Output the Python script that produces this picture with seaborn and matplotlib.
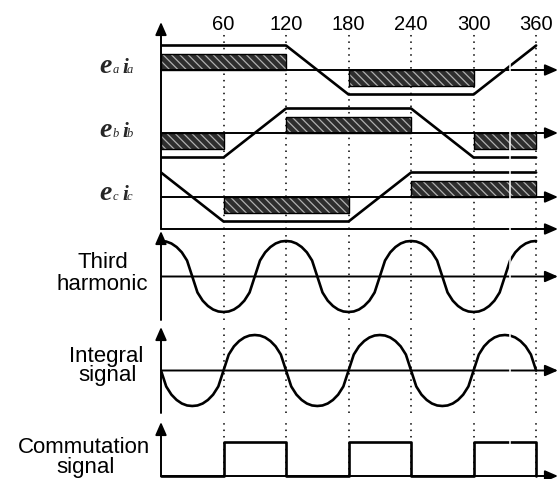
import matplotlib
matplotlib.use("Agg")
import matplotlib.pyplot as plt
import matplotlib.lines as mlines
import seaborn as sns

# ---------------------------------------------------------------- data
tick_angles = [60, 120, 180, 240, 300, 360]
tick_labels = ["60", "120", "180", "240", "300", "360"]

# trapezoidal back-EMF corner points (electrical degrees, per-unit)
ea_angles = [0, 120, 180, 300, 360]
ea_values = [1, 1, -1, -1, 1]
eb_angles = [0, 60, 120, 240, 300, 360]
eb_values = [-1, -1, 1, 1, -1, -1]
ec_angles = [0, 60, 180, 240, 360]
ec_values = [1, -1, -1, 1, 1]

# phase current blocks: start angle, end angle, sign
ia_start, ia_end, ia_sign = [0, 180], [120, 300], [1, -1]
ib_start, ib_end, ib_sign = [0, 120, 300], [60, 240, 360], [-1, 1, -1]
ic_start, ic_end, ic_sign = [60, 240], [180, 360], [-1, 1]
current_level = 0.65

# sampled waveforms every 5 degrees, 0..360
sample_angles = list(range(0, 365, 5))
third_harmonic = [
    1, .985, .93, .83, .68, .45, 0, -.45, -.68, -.83, -.93, -.985,
    -1, -.985, -.93, -.83, -.68, -.45, 0, .45, .68, .83, .93, .985,
    1, .985, .93, .83, .68, .45, 0, -.45, -.68, -.83, -.93, -.985,
    -1, -.985, -.93, -.83, -.68, -.45, 0, .45, .68, .83, .93, .985,
    1, .985, .93, .83, .68, .45, 0, -.45, -.68, -.83, -.93, -.985,
    -1, -.985, -.93, -.83, -.68, -.45, 0, .45, .68, .83, .93, .985,
    1,
]
integral_signal = [
    0, -.45, -.68, -.83, -.93, -.985, -1, -.985, -.93, -.83, -.68, -.45,
    0, .45, .68, .83, .93, .985, 1, .985, .93, .83, .68, .45,
    0, -.45, -.68, -.83, -.93, -.985, -1, -.985, -.93, -.83, -.68, -.45,
    0, .45, .68, .83, .93, .985, 1, .985, .93, .83, .68, .45,
    0, -.45, -.68, -.83, -.93, -.985, -1, -.985, -.93, -.83, -.68, -.45,
    0, .45, .68, .83, .93, .985, 1, .985, .93, .83, .68, .45,
    0,
]

comm_angles = [0, 60, 120, 180, 240, 300, 360]
comm_levels = [0, 1, 0, 1, 0, 1, 0]

# ---------------------------------------------------------------- style
sns.set_theme(style="white")
plt.rcParams["font.family"] = ["Liberation Sans", "DejaVu Sans"]
plt.rcParams["hatch.linewidth"] = 0.9

W, H = 560, 479
X0, X1 = 161, 558          # pixel span of the angle axis (incl. arrow)
XMAX = 381                 # angle at the arrow tip
LW = 1.9
AXLW = 1.4

fig = plt.figure(figsize=(W / 100, H / 100), dpi=100)
fig.patch.set_facecolor("white")


def panel(top, bottom, ylim):
    ax = fig.add_axes([X0 / W, 1 - bottom / H, (X1 - X0) / W, (bottom - top) / H])
    ax.set_xlim(0, XMAX)
    ax.set_ylim(*ylim)
    ax.axis("off")
    return ax


def arrow(ax, start, end, coords="data"):
    ax.annotate("", xy=end, xytext=start, xycoords=coords, textcoords=coords,
                arrowprops=dict(arrowstyle="-|>,head_length=0.55,head_width=0.24",
                                mutation_scale=14, lw=AXLW, color="black",
                                shrinkA=0, shrinkB=0),
                annotation_clip=False)


def dotted_grid(ax, lo=0.0, hi=1.0):
    for a in tick_angles:
        ax.axvline(a, ymin=lo, ymax=hi, color="black", lw=1.1,
                   linestyle=(0, (1, 3.2)), clip_on=False)


def fig_text(x, y, s, **kw):
    fig.text(x / W, 1 - y / H, s, **kw)


# ---------------------------------------------------------------- phase panel frame
frame = panel(22, 229, (0, 1))
arrow(frame, (0, 0), (0, 1), coords="axes fraction")
arrow(frame, (0, 0), (1, 0), coords="axes fraction")
dotted_grid(frame, 0, (229 - 30) / (229 - 22))
for a, lab in zip(tick_angles, tick_labels):
    frame.text(a, (229 - 30) / (229 - 22), lab, transform=frame.get_xaxis_transform(),
               ha="center", va="baseline", fontsize=14.5, color="black")

U = 24.5  # pixels per unit in the phase traces
phases = [
    (70, ea_angles, ea_values, ia_start, ia_end, ia_sign, "a", 73),
    (133, eb_angles, eb_values, ib_start, ib_end, ib_sign, "b", 137),
    (197, ec_angles, ec_values, ic_start, ic_end, ic_sign, "c", 200),
]
for centre, ang, val, st, en, sg, sub, base in phases:
    ax = panel(centre - 1.3 * U, centre + 1.3 * U, (-1.3, 1.3))
    widths = [e - s for s, e in zip(st, en)]
    heights = [g * current_level for g in sg]
    ax.bar(st, heights, width=widths, align="edge", color="#2e2e2e",
           edgecolor="#b0b0b0", hatch="\\\\\\\\", linewidth=0, zorder=1)
    ax.bar(st, heights, width=widths, align="edge", fill=False,
           edgecolor="black", linewidth=1.0, zorder=2)
    arrow(ax, (0, 0), (XMAX, 0))
    sns.lineplot(x=ang, y=val, ax=ax, color="black", linewidth=LW,
                 estimator=None, sort=False, zorder=3)
    # phase label  e_x i_x
    fig_text(99, base, "e", fontfamily="Liberation Serif", fontstyle="italic",
             fontweight="bold", fontsize=20, va="baseline")
    fig_text(113, base, sub, fontfamily="Liberation Serif", fontstyle="italic",
             fontsize=9, va="baseline")
    fig_text(122, base, "i", fontfamily="Liberation Serif", fontstyle="italic",
             fontweight="bold", fontsize=15, va="baseline")
    fig_text(127, base, sub, fontfamily="Liberation Serif", fontstyle="italic",
             fontsize=9, va="baseline")

# ---------------------------------------------------------------- third harmonic
amp = 35.5
th = panel(231, 320, (-(320 - 276.5) / amp, (276.5 - 231) / amp))
arrow(th, (0, 0), (0, 1), coords="axes fraction")
arrow(th, (0, 0), (XMAX, 0))
dotted_grid(th)
sns.lineplot(x=sample_angles, y=third_harmonic, ax=th, color="black",
             linewidth=LW, estimator=None, sort=False)

# ---------------------------------------------------------------- integral signal
ig = panel(327, 413, (-(413 - 370.5) / amp, (370.5 - 327) / amp))
arrow(ig, (0, 0), (0, 1), coords="axes fraction")
arrow(ig, (0, 0), (XMAX, 0))
dotted_grid(ig)
sns.lineplot(x=sample_angles, y=integral_signal, ax=ig, color="black",
             linewidth=LW, estimator=None, sort=False)

# ---------------------------------------------------------------- commutation signal
cm = panel(422, 476, (0, (476 - 422) / 34))
arrow(cm, (0, 0), (0, 1), coords="axes fraction")
arrow(cm, (0, 0), (XMAX, 0))
dotted_grid(cm)
sns.lineplot(x=comm_angles, y=comm_levels, ax=cm, color="black", linewidth=LW,
             estimator=None, sort=False, drawstyle="steps-post")
for line in cm.lines:
    line.set_clip_on(False)

# ---------------------------------------------------------------- left captions
cap = dict(fontsize=16, ha="center", va="baseline", color="black")
fig_text(103, 268, "Third", **cap)
fig_text(102.5, 290, "harmonic", **cap)
fig_text(106.5, 362, "Integral", **cap)
fig_text(107.5, 381, "signal", **cap)
fig_text(84, 453, "Commutation", **cap)
fig_text(86, 473, "signal", **cap)

# thin blank stripe that cuts through the traces near 335 degrees
fig.add_artist(mlines.Line2D([510 / W, 510 / W], [1 - 58 / H, 1 - 462 / H],
                             color="white", lw=1.1, transform=fig.transFigure,
                             zorder=10))

fig.savefig("out.png", dpi=100)
